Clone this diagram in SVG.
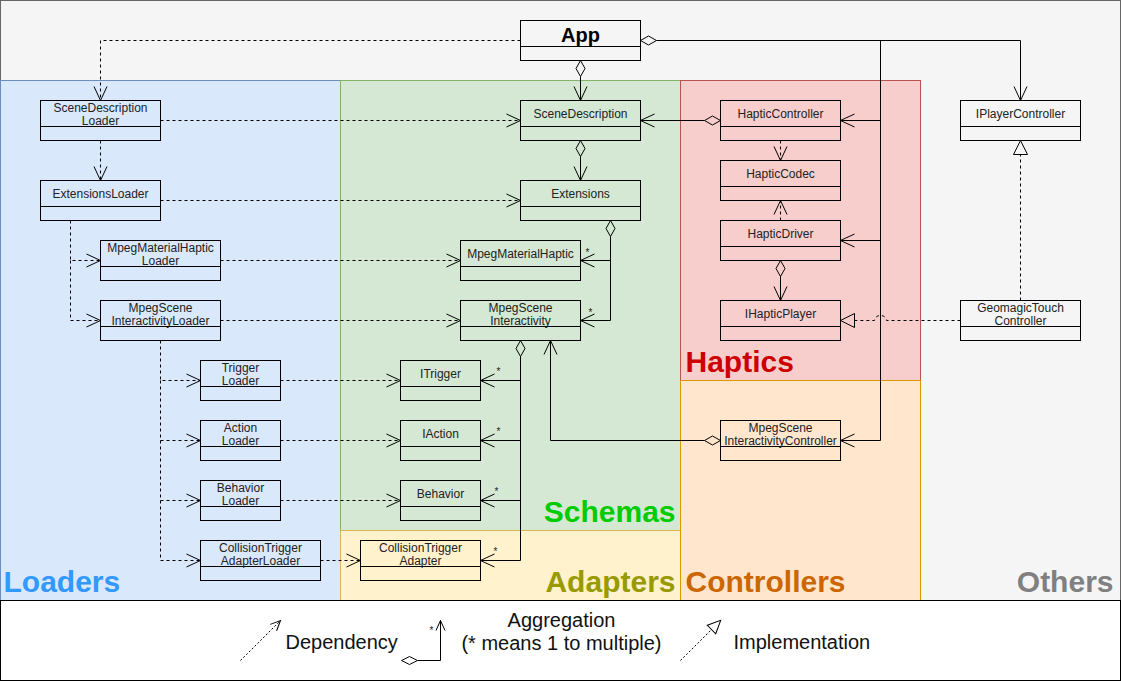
<svg xmlns="http://www.w3.org/2000/svg" width="1121" height="682" viewBox="0 0 1121 682">
<style>
.box{fill:none;stroke:#000;stroke-width:1}
.t{font-family:"Liberation Sans",Arial,sans-serif;font-size:12px;fill:#222;text-anchor:middle}
.big{font-family:"Liberation Sans",Arial,sans-serif;font-size:30px;font-weight:bold}
.leg{font-family:"Liberation Sans",Arial,sans-serif;font-size:20px;fill:#111}
.m{font-family:"Liberation Sans",Arial,sans-serif;font-size:10px;fill:#222}
.dep{fill:none;stroke:#000;stroke-width:1;stroke-dasharray:3,3}
.sol{fill:none;stroke:#000;stroke-width:1}
</style>
<defs>
<marker id="arr" viewBox="0 0 14 14" refX="14" refY="7" markerWidth="14" markerHeight="14" markerUnits="userSpaceOnUse" orient="auto" overflow="visible"><path d="M0,0.5 L14,7 L0,13.5" fill="none" stroke="#000" stroke-width="1" stroke-dasharray="none"/></marker>
<marker id="dia" viewBox="0 0 16 10" refX="16" refY="5" markerWidth="16" markerHeight="10" markerUnits="userSpaceOnUse" orient="auto" overflow="visible"><path d="M0,5 L8,0.5 L16,5 L8,9.5 Z" fill="none" stroke="#000" stroke-width="1" stroke-dasharray="none"/></marker>
<marker id="tri" viewBox="0 0 14 14" refX="0" refY="7" markerWidth="14" markerHeight="14" markerUnits="userSpaceOnUse" orient="auto" overflow="visible"><path d="M0,0 L14,7 L0,14 Z" fill="none" stroke="#000" stroke-width="1" stroke-dasharray="none"/></marker>
<marker id="arrS" viewBox="0 0 10 10" refX="10" refY="5" markerWidth="10" markerHeight="10" markerUnits="userSpaceOnUse" orient="auto" overflow="visible"><path d="M0,0.5 L10,5 L0,9.5" fill="none" stroke="#000" stroke-width="1" stroke-dasharray="none"/></marker>
<marker id="triS" viewBox="0 0 13 12" refX="0" refY="6" markerWidth="13" markerHeight="12" markerUnits="userSpaceOnUse" orient="auto" overflow="visible"><path d="M0,0 L13,6 L0,12 Z" fill="#fff" stroke="#000" stroke-width="1" stroke-dasharray="none"/></marker>
<marker id="diaS" viewBox="0 0 16 10" refX="16" refY="5" markerWidth="16" markerHeight="10" markerUnits="userSpaceOnUse" orient="auto" overflow="visible"><path d="M0,5 L8,1 L16,5 L8,9 Z" fill="#fff" stroke="#000" stroke-width="1" stroke-dasharray="none"/></marker>
</defs>
<g transform="translate(0.5,0.5)">
<g id="regions">
<rect x="0" y="0" width="1120" height="600" fill="#f5f5f5" stroke="#666"/>
<rect x="0" y="80" width="340" height="520" fill="#dae8fc" stroke="#6c8ebf"/>
<rect x="340" y="80" width="340" height="450" fill="#d5e8d4" stroke="#82b366"/>
<rect x="340" y="530" width="340" height="70" fill="#fff2cc" stroke="#d6b656"/>
<rect x="680" y="80" width="240" height="300" fill="#f8cecc" stroke="#b85450"/>
<rect x="680" y="380" width="240" height="220" fill="#ffe6cc" stroke="#d79b00"/>
<text class="big" x="3" y="591" fill="#3399ff">Loaders</text>
<text class="big" x="675" y="521" fill="#00cc00" text-anchor="end">Schemas</text>
<text class="big" x="675" y="591" fill="#999900" text-anchor="end">Adapters</text>
<text class="big" x="685" y="371" fill="#cc0000">Haptics</text>
<text class="big" x="685" y="591" fill="#cc6600">Controllers</text>
<text class="big" x="1113" y="591" fill="#808080" text-anchor="end">Others</text>
</g>
<g id="connectors">
<path class="dep" marker-end="url(#arr)" d="M520,40 H100 V100"/>
<path class="dep" marker-end="url(#arr)" d="M160,120 H520"/>
<path class="dep" marker-end="url(#arr)" d="M100,140 V180"/>
<path class="dep" marker-end="url(#arr)" d="M160,200 H520"/>
<path class="dep" marker-end="url(#arr)" d="M70,220 V260 H100"/>
<path class="dep" marker-end="url(#arr)" d="M70,260 V320 H100"/>
<path class="dep" marker-end="url(#arr)" d="M220,260 H460"/>
<path class="dep" marker-end="url(#arr)" d="M220,320 H460"/>
<path class="dep" marker-end="url(#arr)" d="M160,340 V380 H200"/>
<path class="dep" marker-end="url(#arr)" d="M160,380 V440 H200"/>
<path class="dep" marker-end="url(#arr)" d="M160,440 V500 H200"/>
<path class="dep" marker-end="url(#arr)" d="M160,500 V560 H200"/>
<path class="dep" marker-end="url(#arr)" d="M280,380 H400"/>
<path class="dep" marker-end="url(#arr)" d="M280,440 H400"/>
<path class="dep" marker-end="url(#arr)" d="M280,500 H400"/>
<path class="dep" marker-end="url(#arr)" d="M320,560 H360"/>
<path class="dep" marker-end="url(#arr)" d="M780,140 V160"/>
<path class="dep" marker-end="url(#arr)" d="M780,220 V200"/>
<path class="dep" marker-end="url(#tri)" d="M1020,300 V154"/>
<path class="dep" marker-end="url(#tri)" d="M960,320 H886 A6,5 0 0 0 874,320 H854"/>
<path class="sol" marker-start="url(#dia)" marker-end="url(#arr)" d="M580,76 V100"/>
<path class="sol" marker-start="url(#dia)" marker-end="url(#arr)" d="M656,40 H1020 V100"/>
<path class="sol" marker-end="url(#arr)" d="M880,40 V440 H840"/>
<path class="sol" marker-end="url(#arr)" d="M880,120 H840"/>
<path class="sol" marker-end="url(#arr)" d="M880,240 H840"/>
<path class="sol" marker-start="url(#dia)" marker-end="url(#arr)" d="M580,156 V180"/>
<path class="sol" marker-start="url(#dia)" marker-end="url(#arr)" d="M610,236 V320 H580"/>
<path class="sol" marker-end="url(#arr)" d="M610,260 H580"/>
<path class="sol" marker-start="url(#dia)" marker-end="url(#arr)" d="M520,356 V560 H480"/>
<path class="sol" marker-end="url(#arr)" d="M520,380 H480"/>
<path class="sol" marker-end="url(#arr)" d="M520,440 H480"/>
<path class="sol" marker-end="url(#arr)" d="M520,500 H480"/>
<path class="sol" marker-start="url(#dia)" marker-end="url(#arr)" d="M704,440 H550 V340"/>
<path class="sol" marker-start="url(#dia)" marker-end="url(#arr)" d="M704,120 H640"/>
<path class="sol" marker-start="url(#dia)" marker-end="url(#arr)" d="M780,276 V300"/>
<text class="m" x="585" y="255">*</text>
<text class="m" x="588" y="315">*</text>
<text class="m" x="496" y="374">*</text>
<text class="m" x="496" y="434">*</text>
<text class="m" x="494" y="494">*</text>
<text class="m" x="493" y="554">*</text>
</g>
<g id="App"><rect class="box" x="520" y="20" width="120" height="40"/><line class="box" x1="520" y1="46" x2="640" y2="46"/><text class="t" x="580" y="41" style="font-size:20px;font-weight:bold;fill:#000">App</text></g>
<g id="SceneDescriptionLoader"><rect class="box" x="40" y="100" width="120" height="40"/><line class="box" x1="40" y1="126" x2="160" y2="126"/><text class="t" x="100" y="111">SceneDescription</text><text class="t" x="100" y="124.5">Loader</text></g>
<g id="ExtensionsLoader"><rect class="box" x="40" y="180" width="120" height="40"/><line class="box" x1="40" y1="206" x2="160" y2="206"/><text class="t" x="100" y="197.5">ExtensionsLoader</text></g>
<g id="MpegMaterialHapticLoader"><rect class="box" x="100" y="240" width="120" height="40"/><line class="box" x1="100" y1="266" x2="220" y2="266"/><text class="t" x="160" y="251">MpegMaterialHaptic</text><text class="t" x="160" y="264.5">Loader</text></g>
<g id="MpegSceneInteractivityLoader"><rect class="box" x="100" y="300" width="120" height="40"/><line class="box" x1="100" y1="326" x2="220" y2="326"/><text class="t" x="160" y="311">MpegScene</text><text class="t" x="160" y="324.5">InteractivityLoader</text></g>
<g id="TriggerLoader"><rect class="box" x="200" y="360" width="80" height="40"/><line class="box" x1="200" y1="386" x2="280" y2="386"/><text class="t" x="240" y="371">Trigger</text><text class="t" x="240" y="384.5">Loader</text></g>
<g id="ActionLoader"><rect class="box" x="200" y="420" width="80" height="40"/><line class="box" x1="200" y1="446" x2="280" y2="446"/><text class="t" x="240" y="431">Action</text><text class="t" x="240" y="444.5">Loader</text></g>
<g id="BehaviorLoader"><rect class="box" x="200" y="480" width="80" height="40"/><line class="box" x1="200" y1="506" x2="280" y2="506"/><text class="t" x="240" y="491">Behavior</text><text class="t" x="240" y="504.5">Loader</text></g>
<g id="CollisionTriggerAdapterLoader"><rect class="box" x="200" y="540" width="120" height="40"/><line class="box" x1="200" y1="566" x2="320" y2="566"/><text class="t" x="260" y="551">CollisionTrigger</text><text class="t" x="260" y="564.5">AdapterLoader</text></g>
<g id="SceneDescription"><rect class="box" x="520" y="100" width="120" height="40"/><line class="box" x1="520" y1="126" x2="640" y2="126"/><text class="t" x="580" y="117.5">SceneDescription</text></g>
<g id="Extensions"><rect class="box" x="520" y="180" width="120" height="40"/><line class="box" x1="520" y1="206" x2="640" y2="206"/><text class="t" x="580" y="197.5">Extensions</text></g>
<g id="MpegMaterialHaptic"><rect class="box" x="460" y="240" width="120" height="40"/><line class="box" x1="460" y1="266" x2="580" y2="266"/><text class="t" x="520" y="257.5">MpegMaterialHaptic</text></g>
<g id="MpegSceneInteractivity"><rect class="box" x="460" y="300" width="120" height="40"/><line class="box" x1="460" y1="326" x2="580" y2="326"/><text class="t" x="520" y="311">MpegScene</text><text class="t" x="520" y="324.5">Interactivity</text></g>
<g id="ITrigger"><rect class="box" x="400" y="360" width="80" height="40"/><line class="box" x1="400" y1="386" x2="480" y2="386"/><text class="t" x="440" y="377.5">ITrigger</text></g>
<g id="IAction"><rect class="box" x="400" y="420" width="80" height="40"/><line class="box" x1="400" y1="446" x2="480" y2="446"/><text class="t" x="440" y="437.5">IAction</text></g>
<g id="Behavior"><rect class="box" x="400" y="480" width="80" height="40"/><line class="box" x1="400" y1="506" x2="480" y2="506"/><text class="t" x="440" y="497.5">Behavior</text></g>
<g id="CollisionTriggerAdapter"><rect class="box" x="360" y="540" width="120" height="40"/><line class="box" x1="360" y1="566" x2="480" y2="566"/><text class="t" x="420" y="551">CollisionTrigger</text><text class="t" x="420" y="564.5">Adapter</text></g>
<g id="HapticController"><rect class="box" x="720" y="100" width="120" height="40"/><line class="box" x1="720" y1="126" x2="840" y2="126"/><text class="t" x="780" y="117.5">HapticController</text></g>
<g id="HapticCodec"><rect class="box" x="720" y="160" width="120" height="40"/><line class="box" x1="720" y1="186" x2="840" y2="186"/><text class="t" x="780" y="177.5">HapticCodec</text></g>
<g id="HapticDriver"><rect class="box" x="720" y="220" width="120" height="40"/><line class="box" x1="720" y1="246" x2="840" y2="246"/><text class="t" x="780" y="237.5">HapticDriver</text></g>
<g id="IHapticPlayer"><rect class="box" x="720" y="300" width="120" height="40"/><line class="box" x1="720" y1="326" x2="840" y2="326"/><text class="t" x="780" y="317.5">IHapticPlayer</text></g>
<g id="MpegSceneInteractivityController"><rect class="box" x="720" y="420" width="120" height="40"/><line class="box" x1="720" y1="446" x2="840" y2="446"/><text class="t" x="780" y="431">MpegScene</text><text class="t" x="780" y="444.5">InteractivityController</text></g>
<g id="IPlayerController"><rect class="box" x="960" y="100" width="120" height="40"/><line class="box" x1="960" y1="126" x2="1080" y2="126"/><text class="t" x="1020" y="117.5">IPlayerController</text></g>
<g id="GeomagicTouchController"><rect class="box" x="960" y="300" width="120" height="40"/><line class="box" x1="960" y1="326" x2="1080" y2="326"/><text class="t" x="1020" y="311">GeomagicTouch</text><text class="t" x="1020" y="324.5">Controller</text></g>
<g id="legend">
<rect x="0" y="600" width="1120" height="80" fill="#fff" stroke="#000"/>
<path class="dep" marker-end="url(#arrS)" d="M240,660 L280,620" style="stroke-dasharray:2,2"/>
<text class="leg" x="285" y="648">Dependency</text>
<path class="sol" marker-start="url(#diaS)" marker-end="url(#arrS)" d="M417,660 H440 V620"/>
<text class="m" x="429" y="633">*</text>
<text class="leg" x="561" y="626" text-anchor="middle">Aggregation</text>
<text class="leg" x="561" y="649" text-anchor="middle">(* means 1 to multiple)</text>
<path class="dep" marker-end="url(#triS)" d="M680,660 L711,629" style="stroke-dasharray:2,2"/>
<text class="leg" x="733" y="648">Implementation</text>
</g>
</g>
</svg>
